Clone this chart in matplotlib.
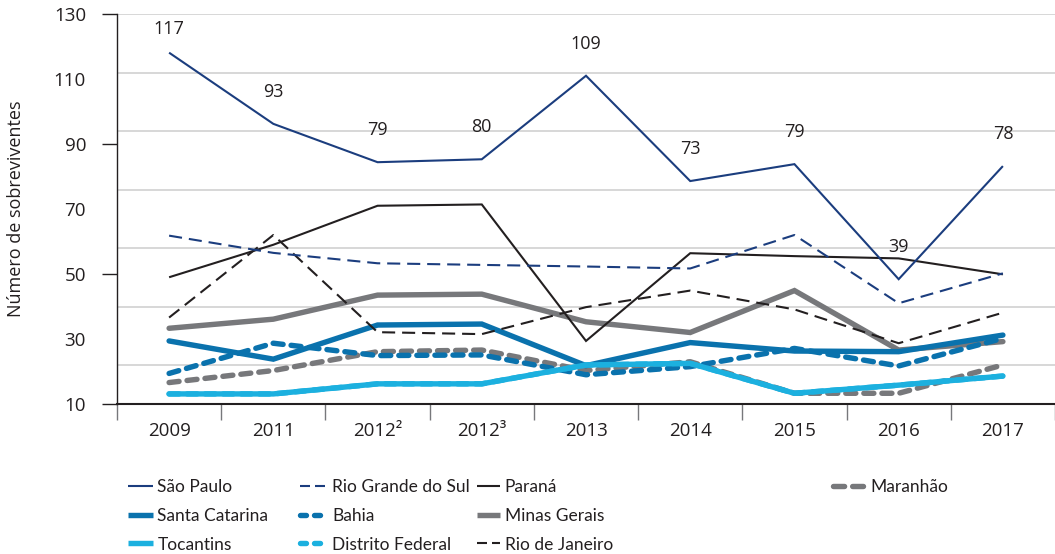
import numpy as np
import matplotlib
matplotlib.use('Agg')
import matplotlib.pyplot as plt
from matplotlib.lines import Line2D

# ---------------------------------------------------------------------
# Dados
# ---------------------------------------------------------------------
anos = ['2009', '2011', '2012²', '2012³', '2013', '2014', '2015', '2016', '2017']

sao_paulo = [118.1, 96.2, 84.4, 85.3, 111.0, 78.6, 83.8, 48.4, 83.2]
rotulos_sao_paulo = [117, 93, 79, 80, 109, 73, 79, 39, 78]
rio_grande_do_sul = [61.8, 56.5, 53.3, 52.8, 52.3, 51.7, 62.0, 41.0, 50.2]
parana = [49.0, 59.0, 71.0, 71.4, 29.4, 56.4, 55.5, 54.8, 49.9]
rio_de_janeiro = [36.6, 62.0, 32.1, 31.5, 39.8, 44.9, 39.1, 28.7, 38.1]
minas_gerais = [33.3, 36.1, 43.5, 43.8, 35.3, 32.0, 44.9, 26.6, 29.2]
santa_catarina = [29.4, 23.8, 34.3, 34.6, 21.8, 28.9, 26.3, 26.1, 31.2]
bahia = [19.4, 28.7, 24.9, 25.1, 19.0, 21.5, 27.1, 21.7, 30.2]
maranhao = [16.6, 20.3, 26.1, 26.6, 20.3, 23.0, 13.3, 13.3, 22.0]
tocantins = [13.1, 13.1, 16.2, 16.2, 22.0, 22.5, 13.3, 15.8, 18.6]
distrito_federal = [13.1, 13.1, 16.2, 16.2, 22.0, 22.5, 13.3, 15.8, 18.6]

# cores
AZUL_ESCURO = '#1b3d7e'
PRETO = '#231f20'
AZUL = '#0a72ad'
CINZA = '#77787b'
AZUL_CLARO = '#1cb0df'
GRADE = '#d4d4d4'

plt.rcParams['lines.scale_dashes'] = False
FONTE = ['Open Sans', 'DejaVu Sans']
FONTE_LEG = ['Lato', 'DejaVu Sans']
TAM = 13.5
TAM_LEG = 12.5

W, H = 1055, 554
fig = plt.figure(figsize=(W / 100, H / 100), dpi=100)
ax = fig.add_axes([117 / W, (H - 404) / H, (W - 117) / W, (404 - 14) / H])

x = np.arange(len(anos))

FINA = 1.5
GROSSA = 3.9
tr_fino = (9.4, 5.0)
tr_grosso = (7.2, 5.8)

# ---------------------------------------------------------------------
# Linhas
# ---------------------------------------------------------------------
series = [
    # (valores, cor, largura, tracejado, zorder)
    (maranhao, CINZA, GROSSA, tr_grosso, 3),
    (minas_gerais, CINZA, GROSSA, None, 3),
    (bahia, AZUL, GROSSA, tr_grosso, 4),
    (santa_catarina, AZUL, GROSSA, None, 4),
    (distrito_federal, AZUL_CLARO, GROSSA, tr_grosso, 4),
    (tocantins, AZUL_CLARO, GROSSA, None, 5),
    (rio_de_janeiro, PRETO, FINA, tr_fino, 6),
    (parana, PRETO, FINA, None, 6),
    (rio_grande_do_sul, AZUL_ESCURO, FINA, tr_fino, 7),
    (sao_paulo, AZUL_ESCURO, FINA, None, 8),
]
for vals, cor, lw, tr, z in series:
    ln, = ax.plot(x, vals, color=cor, lw=lw, zorder=z,
                  solid_capstyle='round' if lw > 2 else 'butt',
                  dash_capstyle='round' if lw > 2 else 'butt',
                  solid_joinstyle='miter')
    if tr is not None:
        ln.set_dashes(tr)

# rotulos de Sao Paulo
for i, (v, r) in enumerate(zip(sao_paulo, rotulos_sao_paulo)):
    dy = 17 if i == 0 else 23
    ax.annotate(str(r), (i, v), xytext=(0, dy), textcoords='offset points',
                ha='center', va='center', fontsize=13, color=PRETO,
                family=FONTE)

# ---------------------------------------------------------------------
# Eixos
# ---------------------------------------------------------------------
ax.set_ylim(10, 130)
ax.set_xlim(-0.5, -0.5 + (W - 117) / 105.5)

for g in np.arange(130, 10, -18):
    ax.axhline(g, color=GRADE, lw=1.3, zorder=1)

ax.set_yticks([10, 50, 90, 130])
ax.set_yticks([30, 70, 110], minor=True)
ax.set_yticklabels(['10', '50', '90', '130'])
ax.set_yticklabels(['30', '70', '110'], minor=True)
ax.tick_params(axis='y', which='major', length=10.8, width=1.0, color=PRETO,
               pad=11.5, labelsize=TAM, labelcolor=PRETO)
ax.tick_params(axis='y', which='minor', length=0, pad=22.3,
               labelsize=TAM, labelcolor=PRETO)

ax.set_xticks(np.arange(-0.5, len(anos), 1))
ax.set_xticklabels([])
ax.set_xticks(x, minor=True)
ax.set_xticklabels(anos, minor=True)
ax.tick_params(axis='x', which='major', length=11.5, width=1.0, color=CINZA)
ax.tick_params(axis='x', which='minor', length=0, pad=13,
               labelsize=TAM, labelcolor=PRETO)

for lab in ax.get_xticklabels(minor=True) + ax.get_yticklabels() + ax.get_yticklabels(minor=True):
    lab.set_family(FONTE)

ax.spines['top'].set_visible(False)
ax.spines['right'].set_visible(False)
ax.spines['left'].set_color(PRETO)
ax.spines['left'].set_linewidth(1.0)
ax.spines['bottom'].set_color(PRETO)
ax.spines['bottom'].set_linewidth(1.5)
ax.spines['bottom'].set_zorder(9)

ax.set_ylabel('Número de sobreviventes', fontsize=13, color=PRETO, family=FONTE)
ax.yaxis.set_label_coords((25 - 117) / (W - 117), (404 - 209) / (404 - 14))

# ---------------------------------------------------------------------
# Legenda (4 colunas independentes)
# ---------------------------------------------------------------------
def h(cor, lw, tr=None):
    ln = Line2D([], [], color=cor, lw=lw,
                solid_capstyle='butt',
                dash_capstyle='round' if lw > 2 else 'butt')
    if tr is not None:
        ln.set_dashes(tr)
    return ln

colunas = [
    (128, [(h(AZUL_ESCURO, FINA), 'São Paulo'),
           (h(AZUL, GROSSA), 'Santa Catarina'),
           (h(AZUL_CLARO, GROSSA), 'Tocantins')], 1.45, 0.24),
    (300, [(h(AZUL_ESCURO, FINA, (7.2, 3.6)), 'Rio Grande do Sul'),
           (h(AZUL, GROSSA, (4.3, 5.8)), 'Bahia'),
           (h(AZUL_CLARO, GROSSA, (4.3, 5.8)), 'Distrito Federal')], 1.45, 0.4),
    (477, [(h(PRETO, FINA), 'Paraná'),
           (h(CINZA, GROSSA), 'Minas Gerais'),
           (h(PRETO, FINA, (7.2, 3.6)), 'Rio de Janeiro')], 1.35, 0.24),
]
for xpx, itens, hl, tp in colunas:
    fig.legend([i[0] for i in itens], [i[1] for i in itens],
               loc='center left', bbox_to_anchor=(xpx / W, (H - 516) / H),
               bbox_transform=fig.transFigure, frameon=False, borderpad=0,
               borderaxespad=0, handlelength=hl, handletextpad=tp,
               labelspacing=0.72, labelcolor=PRETO,
               prop={'family': FONTE_LEG, 'size': TAM_LEG})

fig.legend([h(CINZA, GROSSA, (8.0, 5.8))], ['Maranhão'],
           loc='center left', bbox_to_anchor=(833 / W, (H - 487) / H),
           bbox_transform=fig.transFigure, frameon=False, borderpad=0,
           borderaxespad=0, handlelength=1.72, handletextpad=0.45,
           labelcolor=PRETO, prop={'family': FONTE_LEG, 'size': TAM_LEG})

fig.savefig('out.png', dpi=100)
